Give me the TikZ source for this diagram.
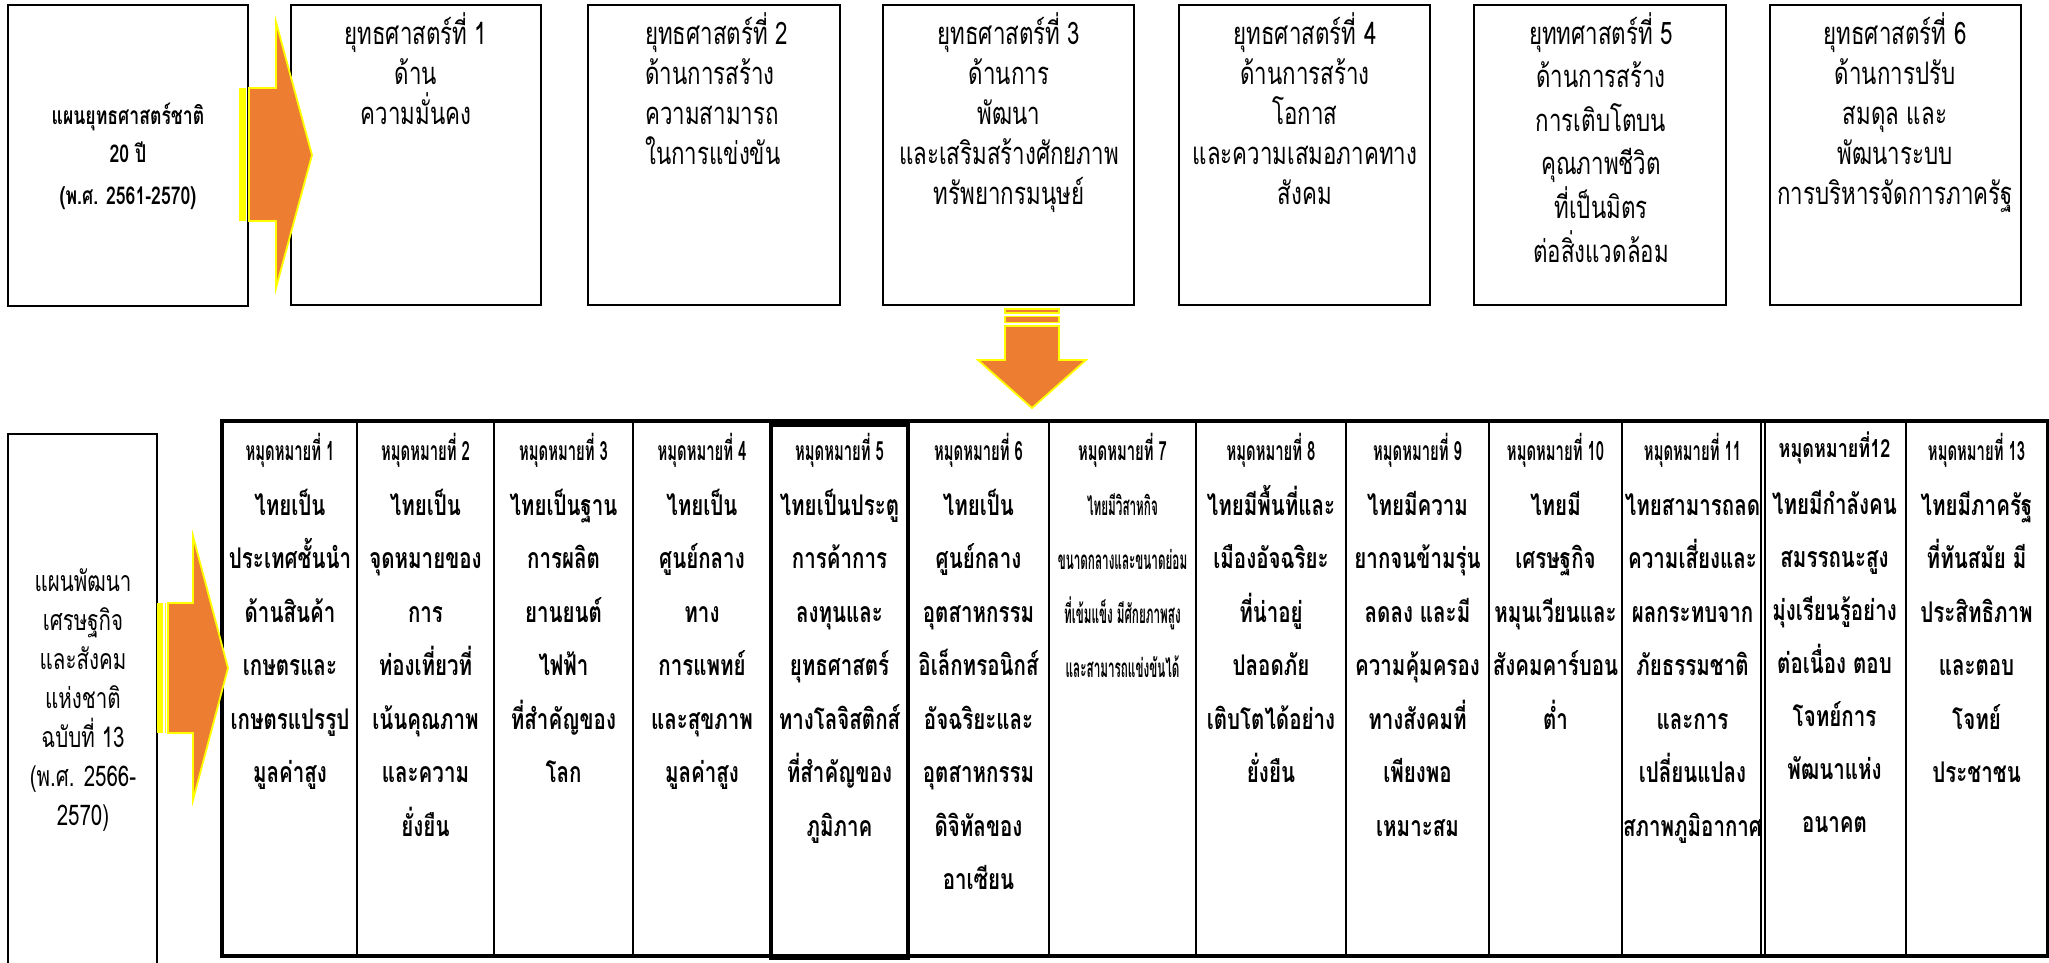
\documentclass[tikz,border=0pt]{standalone}
\usepackage{fontspec}
\newfontfamily\thaiA[Script=Thai,FakeStretch=0.72]{Loma}
\newfontfamily\thaiH[Script=Thai,FakeStretch=0.56]{Loma}
\newfontfamily\thaiS[Script=Thai,FakeStretch=0.45]{Loma}
\definecolor{arrowor}{HTML}{ED7D31}
\definecolor{arrowyl}{HTML}{FFFF00}
\tikzset{
  tbox/.style={draw=black, line width=2.5pt, fill=white, inner sep=0pt},
  colbox/.style={draw=black, line width=2.5pt, inner sep=0pt},
  toptext/.style={font={\thaiA\fontsize{31}{31}\selectfont}, anchor=base, inner sep=0pt},
  planb/.style={font={\thaiA\bfseries\fontsize{24.5}{24.5}\selectfont}, anchor=base, inner sep=0pt},
  plant/.style={font={\thaiA\fontsize{28.5}{28.5}\selectfont}, anchor=base, inner sep=0pt},
  hdr/.style={font={\thaiH\bfseries\fontsize{26.5}{26.5}\selectfont}, anchor=base, inner sep=0pt},
  hdrbig/.style={font={\thaiA\bfseries\fontsize{25}{25}\selectfont}, anchor=base, inner sep=0pt},
  body/.style={font={\thaiA\bfseries\fontsize{28.5}{28.5}\selectfont}, anchor=base, inner sep=0pt},
  bodys/.style={font={\thaiS\bfseries\fontsize{26}{26}\selectfont}, anchor=base, inner sep=0pt},
  blockarrow/.style={draw=arrowyl, line width=1.8pt, fill=arrowor, line join=miter},
}
\newcommand\tlines[6]{%
  \foreach \tl [count=\ti] in {#6}{%
    \node[#5] (#1-\ti) at (#2,{#3+#4*(\ti-1)}) {\tl};}}
\newcommand\tcolumn[4]{%
  \node[hdr] (h#1) at (#2,460) {#3};
  \tlines{c#1}{#2}{515}{53.5}{body}{#4}}
\begin{document}
\begin{tikzpicture}[x=1pt,y=-1pt]
\useasboundingbox (0,0) rectangle (2049,962);
\clip (0,0) rectangle (2049,962);
\fill[white] (0,0) rectangle (2049,962);

% ---------- top row ----------
\node[tbox, minimum width=240pt, minimum height=301pt] (plan) at (128,155.5) {};
\node[tbox, minimum width=250pt, minimum height=300pt] (s1) at (416,155) {};
\node[tbox, minimum width=252pt, minimum height=300pt] (s2) at (714,155) {};
\node[tbox, minimum width=251pt, minimum height=300pt] (s3) at (1008.5,155) {};
\node[tbox, minimum width=251pt, minimum height=300pt] (s4) at (1304.5,155) {};
\node[tbox, minimum width=252pt, minimum height=300pt] (s5) at (1600,155) {};
\node[tbox, minimum width=251pt, minimum height=300pt] (s6) at (1895.5,155) {};

\tlines{pt}{128}{124}{38}{planb}{แผนยุทธศาสตร์ชาติ,20 ปี}
\node[planb] (pt-3) at (128,204) {(พ.ศ. 2561-2570)};

\tlines{t1}{416}{44}{40}{toptext}{ยุทธศาสตร์ที่ 1,ด้าน,ความมั่นคง}
\tlines{t2}{645}{44}{40}{toptext, anchor=base west}{ยุทธศาสตร์ที่ 2,ด้านการสร้าง,ความสามารถ,ในการแข่งขัน}
\tlines{t3}{1009}{44}{40}{toptext}{ยุทธศาสตร์ที่ 3,ด้านการ,พัฒนา,และเสริมสร้างศักยภาพ,ทรัพยากรมนุษย์}
\tlines{t4}{1305}{44}{40}{toptext}{ยุทธศาสตร์ที่ 4,ด้านการสร้าง,โอกาส,และความเสมอภาคทาง,สังคม}
\tlines{t5}{1601}{44}{43.6}{toptext}{ยุททศาสตร์ที่ 5,ด้านการสร้าง,การเติบโตบน,คุณภาพชีวิต,ที่เป็นมิตร,ต่อสิ่งแวดล้อม}
\tlines{t6}{1895}{44}{40}{toptext}{ยุทธศาสตร์ที่ 6,ด้านการปรับ,สมดุล และ,พัฒนาระบบ,การบริหารจัดการภาครัฐ}

% arrow plan -> strategies
\fill[arrowyl] (239,88) rectangle (246,221);
\draw[blockarrow] (249,88) -- (276,88) -- (276,22) -- (312,155) -- (276,288) -- (276,221) -- (249,221) -- cycle;

% down arrow
\draw[blockarrow, line width=1.4pt] (1005,309) rectangle (1059,313);
\draw[blockarrow, line width=1.4pt] (1005,316.5) rectangle (1059,322.5);
\draw[blockarrow] (1005,326) -- (1005,360) -- (978,360) -- (1032,408) -- (1086,360) -- (1059,360) -- (1059,326) -- cycle;

% ---------- bottom row ----------
\node[tbox, minimum width=149pt, minimum height=566pt] (plan13) at (82.5,717) {};
\tlines{pb}{83}{591}{39}{plant}{แผนพัฒนา,เศรษฐกิจ,และสังคม,แห่งชาติ,ฉบับที่ 13,{(พ.ศ. 2566-},{2570)}}

% table columns
\node[colbox, minimum width=134pt, minimum height=533pt] (col1) at (290,688.5) {};
\node[colbox, minimum width=137pt, minimum height=533pt] (col2) at (425.5,688.5) {};
\node[colbox, minimum width=139pt, minimum height=533pt] (col3) at (563.5,688.5) {};
\node[colbox, minimum width=138pt, minimum height=533pt] (col4) at (702,688.5) {};
\node[colbox, minimum width=141pt, minimum height=533pt] (col6) at (978.5,688.5) {};
\node[colbox, minimum width=147pt, minimum height=533pt] (col7) at (1122.5,688.5) {};
\node[colbox, minimum width=150pt, minimum height=533pt] (col8) at (1271,688.5) {};
\node[colbox, minimum width=143pt, minimum height=533pt] (col9) at (1417.5,688.5) {};
\node[colbox, minimum width=133pt, minimum height=533pt] (col10) at (1555.5,688.5) {};
\node[colbox, minimum width=139pt, minimum height=533pt] (col11) at (1691.5,688.5) {};
\node[colbox, minimum width=141pt, minimum height=533pt] (col12) at (1835.5,688.5) {};
\node[colbox, minimum width=141pt, minimum height=533pt] (col13) at (1976.5,688.5) {};
\draw[line width=4pt] (col1.north west) rectangle (col13.south east);
\draw[line width=1.2pt] (1765,422) -- (1765,955);
\node[colbox, line width=4pt, minimum width=137pt, minimum height=533pt] (col5) at (839.5,691.5) {};

% arrow plan13 -> table
\fill[arrowyl] (157,603) rectangle (163,733);
\draw[arrowyl, line width=1.5pt] (165.5,603) -- (165.5,733);
\draw[blockarrow] (168,603) -- (193,603) -- (193,536) -- (228,668) -- (193,800) -- (193,733) -- (168,733) -- cycle;

% column texts
\tcolumn{1}{290}{หมุดหมายที่ 1}{ไทยเป็น,ประเทศชั้นนำ,ด้านสินค้า,เกษตรและ,เกษตรแปรรูป,มูลค่าสูง}
\tcolumn{2}{425.5}{หมุดหมายที่ 2}{ไทยเป็น,จุดหมายของ,การ,ท่องเที่ยวที่,เน้นคุณภาพ,และความ,ยั่งยืน}
\tcolumn{3}{563.5}{หมุดหมายที่ 3}{ไทยเป็นฐาน,การผลิต,ยานยนต์,ไฟฟ้า,ที่สำคัญของ,โลก}
\tcolumn{4}{702}{หมุดหมายที่ 4}{ไทยเป็น,ศูนย์กลาง,ทาง,การแพทย์,และสุขภาพ,มูลค่าสูง}
\tcolumn{5}{839.5}{หมุดหมายที่ 5}{ไทยเป็นประตู,การค้าการ,ลงทุนและ,ยุทธศาสตร์,ทางโลจิสติกส์,ที่สำคัญของ,ภูมิภาค}
\tcolumn{6}{978.5}{หมุดหมายที่ 6}{ไทยเป็น,ศูนย์กลาง,อุตสาหกรรม,อิเล็กทรอนิกส์,อัจฉริยะและ,อุตสาหกรรม,ดิจิทัลของ,อาเซียน}
\node[hdr] (h7) at (1122.5,460) {หมุดหมายที่ 7};
\tlines{c7}{1122.5}{515}{54}{bodys}{ไทยมีวิสาหกิจ,ขนาดกลางและขนาดย่อม,ที่เข้มแข็ง มีศักยภาพสูง,และสามารถแข่งขันได้}
\tcolumn{8}{1271}{หมุดหมายที่ 8}{ไทยมีพื้นที่และ,เมืองอัจฉริยะ,ที่น่าอยู่,ปลอดภัย,เติบโตได้อย่าง,ยั่งยืน}
\tcolumn{9}{1417.5}{หมุดหมายที่ 9}{ไทยมีความ,ยากจนข้ามรุ่น,ลดลง และมี,ความคุ้มครอง,ทางสังคมที่,เพียงพอ,เหมาะสม}
\tcolumn{10}{1555.5}{หมุดหมายที่ 10}{ไทยมี,เศรษฐกิจ,หมุนเวียนและ,สังคมคาร์บอน,ต่ำ}
\node[hdr] (h11) at (1692.5,460) {หมุดหมายที่ 11};
\tlines{c11}{1692.5}{515}{53.5}{body}{ไทยสามารถลด,ความเสี่ยงและ,ผลกระทบจาก,ภัยธรรมชาติ,และการ,เปลี่ยนแปลง}
\begin{scope}
  \clip (1600,800) rectangle (1762,860);
  \node[body] (c11-7) at (1692.5,836) {สภาพภูมิอากาศ};
\end{scope}
\node[hdrbig] (h12) at (1834.5,457) {หมุดหมายที่12};
\tlines{c12}{1834.5}{514}{53}{body}{ไทยมีกำลังคน,สมรรถนะสูง,มุ่งเรียนรู้อย่าง,ต่อเนื่อง ตอบ,โจทย์การ,พัฒนาแห่ง,อนาคต}
\tcolumn{13}{1976.5}{หมุดหมายที่ 13}{ไทยมีภาครัฐ,ที่ทันสมัย มี,ประสิทธิภาพ,และตอบ,โจทย์,ประชาชน}
\end{tikzpicture}
\end{document}
